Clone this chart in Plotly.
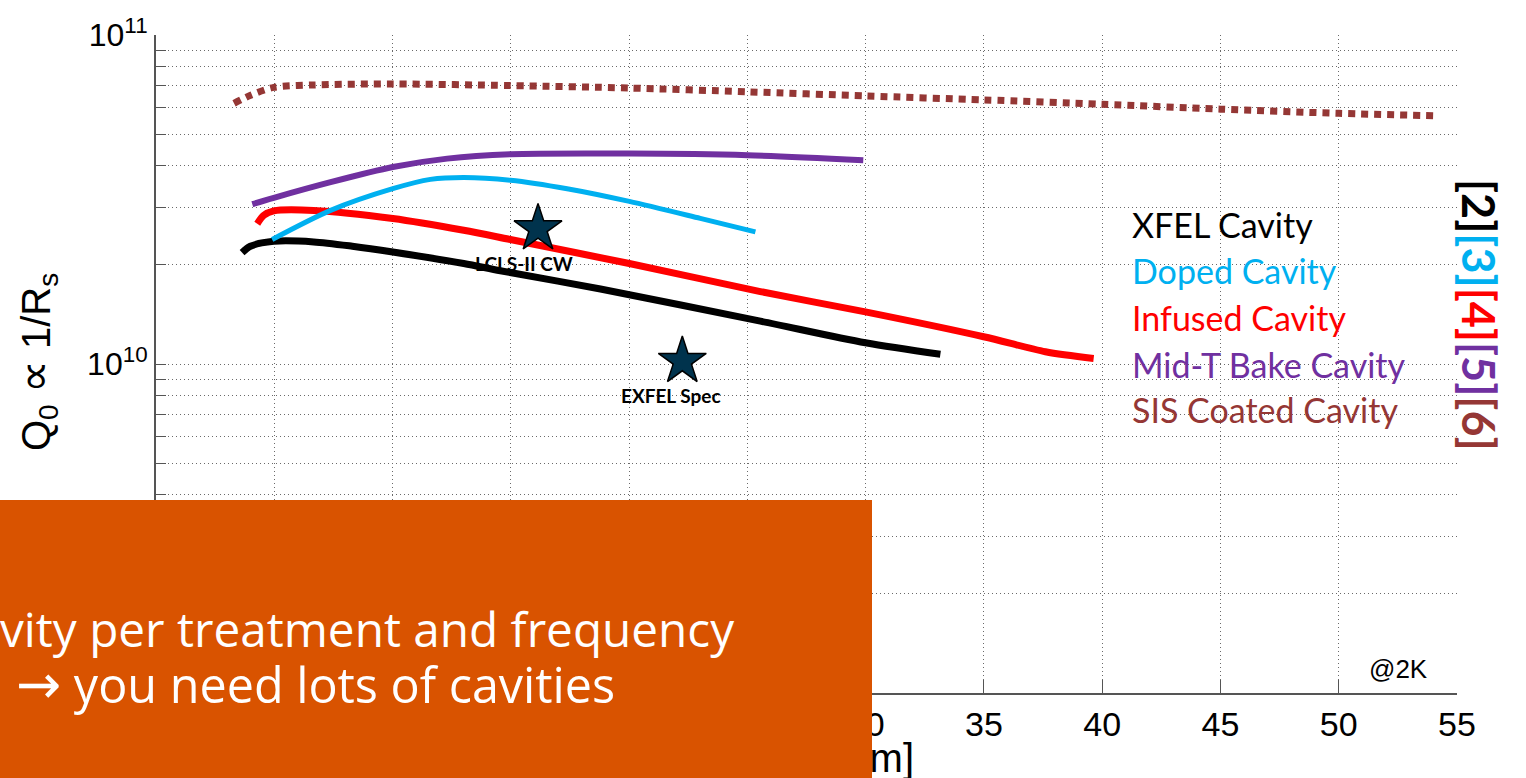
import math
import plotly.graph_objects as go

# ---------------- data ----------------
xfel_eacc = [3.64, 3.99, 4.98, 6.67, 8.3, 10.01, 13.01, 14.56, 18.79, 25.55, 29.99, 33.16]
xfel_q0 = [2.18e10, 2.28e10, 2.36e10, 2.35e10, 2.28e10, 2.19e10, 2.02e10, 1.92e10, 1.69e10, 1.35e10, 1.16e10, 1.07e10]

doped_eacc = [4.91, 7.38, 10.01, 11.60, 13.01, 14.98, 17.38, 20.01, 23.01, 25.34]
doped_q0 = [2.39e10, 2.93e10, 3.41e10, 3.64e10, 3.69e10, 3.62e10, 3.41e10, 3.12e10, 2.77e10, 2.52e10]

infused_eacc = [4.28, 4.56, 4.98, 6.67, 10.01, 13.01, 14.98, 20.01, 25.55, 29.99, 34.99, 37.6, 39.64]
infused_q0 = [2.67e10, 2.83e10, 2.92e10, 2.93e10, 2.77e10, 2.55e10, 2.39e10, 2.02e10, 1.66e10, 1.44e10, 1.21e10, 1.09e10, 1.04e10]

midt_eacc = [4.07, 4.98, 7.38, 10.01, 12.31, 14.98, 20.01, 25.01, 29.9]
midt_q0 = [3.06e10, 3.20e10, 3.57e10, 3.97e10, 4.21e10, 4.34e10, 4.36e10, 4.31e10, 4.16e10]

sis_eacc = [3.3, 4.0, 4.98, 6.66, 10.0, 14.98, 20.0, 25.0, 30.0, 35.0, 40.0, 45.0, 50.0, 54.2]
sis_q0 = [6.2e10, 6.56e10, 6.93e10, 7.05e10, 7.1e10, 7.02e10, 6.90e10, 6.72e10, 6.53e10, 6.35e10, 6.16e10, 5.95e10, 5.78e10, 5.68e10]

spec_names = ["LCLS-II CW", "EXFEL Spec"]
spec_eacc = [16.15, 22.25]
spec_q0 = [2.58e10, 1.02e10]

legend_names = ["XFEL Cavity", "Doped Cavity", "Infused Cavity", "Mid-T Bake Cavity", "SIS Coated Cavity"]
legend_refs = ["[2]", "[3]", "[4]", "[5]", "[6]"]
colors = ["#000000", "#00B0F0", "#FF0000", "#7030A0", "#953735"]

x_ticks = [0, 5, 10, 15, 20, 25, 30, 35, 40, 45, 50, 55]
y_tickvals = [m * 10 ** e for e in (9, 10) for m in range(1, 10)] + [1e11]
y_ticktext = [("10<sup>%d</sup>" % e if (m == 1 and e > 9) else "") for e in (9, 10) for m in range(1, 10)] + ["10<sup>11</sup>"]

# ---------------- layout geometry ----------------
W, H = 1526, 778
ML, MR, MT, MB = 156, 69, 35, 85
PW = W - ML - MR
PH = H - MT - MB


def px(p):
    return (p - ML) / PW


def py(p):
    return (H - MB - p) / PH


ARIAL = "Arial, Liberation Sans, sans-serif"
CAL = "Lato, Open Sans, sans-serif"
SEGOE = "Open Sans, Noto Sans, sans-serif"

fig = go.Figure()

series = [
    (infused_eacc, infused_q0, colors[2], 7, "solid"),
    (xfel_eacc, xfel_q0, colors[0], 7, "solid"),
    (doped_eacc, doped_q0, colors[1], 5, "solid"),
    (midt_eacc, midt_q0, colors[3], 6, "solid"),
    (sis_eacc, sis_q0, colors[4], 7, "7px,6px"),
]
for xs, ys, c, w, d in series:
    fig.add_trace(go.Scatter(
        x=xs, y=ys, mode="lines",
        line=dict(color=c, width=w, dash=d, shape="spline", smoothing=0.8),
        showlegend=False, hoverinfo="skip"))

fig.add_trace(go.Scatter(
    x=spec_eacc, y=spec_q0, mode="markers",
    marker=dict(symbol="star", size=36, color="#00334D", line=dict(color="#000000", width=1.5)),
    showlegend=False, hoverinfo="skip"))

grid = "#6a6a6a"
axcol = "#555555"
fig.update_xaxes(
    range=[0, 55], tickvals=x_ticks, ticks="inside", ticklen=13, tickwidth=1.2, tickcolor=axcol,
    showline=True, linecolor=axcol, linewidth=2, showgrid=True, gridcolor=grid, griddash="1px,3px",
    gridwidth=1, zeroline=False, tickfont=dict(family=ARIAL, size=34, color="#000000"))
fig.update_yaxes(
    type="log", range=[9, 11], tickvals=y_tickvals, ticktext=y_ticktext, ticks="inside", ticklen=10,
    tickwidth=1.2, tickcolor=axcol, showline=True, linecolor=axcol, linewidth=2, showgrid=True,
    gridcolor=grid, griddash="1px,3px", gridwidth=1, zeroline=False,
    tickfont=dict(family=ARIAL, size=32, color="#000000"))

ann = []
# star labels (log axis -> annotation y in log10 units)
shifts = [(-14, -35), (-11, -34)]
for name, xv, yv, (dx, dy) in zip(spec_names, spec_eacc, spec_q0, shifts):
    ann.append(dict(x=xv, y=math.log10(yv), xref="x", yref="y", text="<b>%s</b>" % name, showarrow=False,
                    xshift=dx, yshift=dy, font=dict(family=CAL, size=19, color="#000000")))

# coloured labels
row_y = [224, 270, 317, 364, 410]
for name, c, yy in zip(legend_names, colors, row_y):
    ann.append(dict(x=px(1130), y=py(yy), xref="paper", yref="paper", text=name, showarrow=False,
                    xanchor="left", yanchor="middle", font=dict(family=CAL, size=34, color=c)))

refs = "".join("<span style='color:%s'>%s</span>" % (c, r) for r, c in zip(legend_refs, colors))
ann.append(dict(x=px(1479), y=py(315), xref="paper", yref="paper", text="<b>%s</b>" % refs,
                showarrow=False, textangle=90, xanchor="center", yanchor="middle",
                font=dict(family=CAL, size=45, color="#000000")))

ann.append(dict(x=px(1430), y=py(669), xref="paper", yref="paper", text="@2K", showarrow=False,
                xanchor="right", yanchor="middle", font=dict(family=ARIAL, size=26, color="#000000")))

# axis titles
ann.append(dict(x=px(36), y=py(362), xref="paper", yref="paper",
                text="Q<sub>0</sub> <span style='font-size:46px'>\u221d</span> 1/R<sub>s</sub>",
                showarrow=False, textangle=-90, xanchor="center", yanchor="middle",
                font=dict(family=ARIAL, size=40, color="#000000")))
ann.append(dict(x=px(916), y=py(761), xref="paper", yref="paper", text="E<sub>acc</sub> [MV/m]",
                showarrow=False, xanchor="right", yanchor="middle",
                font=dict(family=ARIAL, size=40, color="#000000")))

# orange overlay box with text
ann.append(dict(x=px(0), y=py(500), xref="paper", yref="paper", text=" ", showarrow=False,
                xanchor="left", yanchor="top", width=872, height=278, bgcolor="#D95300",
                borderpad=0, borderwidth=0, font=dict(size=10, color="#D95300")))
ann.append(dict(x=px(-2), y=py(628), xref="paper", yref="paper", text="vity per treatment and frequency",
                showarrow=False, xanchor="left", yanchor="middle",
                font=dict(family=SEGOE, size=47.7, color="#FFFFFF")))
ann.append(dict(x=px(14), y=py(684), xref="paper", yref="paper",
                text="<span style='font-family:DejaVu Sans;font-size:54px'>\u2192</span> you need lots of cavities",
                showarrow=False, xanchor="left", yanchor="middle",
                font=dict(family=SEGOE, size=48.5, color="#FFFFFF")))

fig.update_layout(
    width=W, height=H, margin=dict(l=ML, r=MR, t=MT, b=MB, autoexpand=False),
    paper_bgcolor="#FFFFFF", plot_bgcolor="#FFFFFF", annotations=ann, showlegend=False)

fig.write_html("out.html", config={"displayModeBar": False},
               post_script="document.body.style.margin='0px';")
